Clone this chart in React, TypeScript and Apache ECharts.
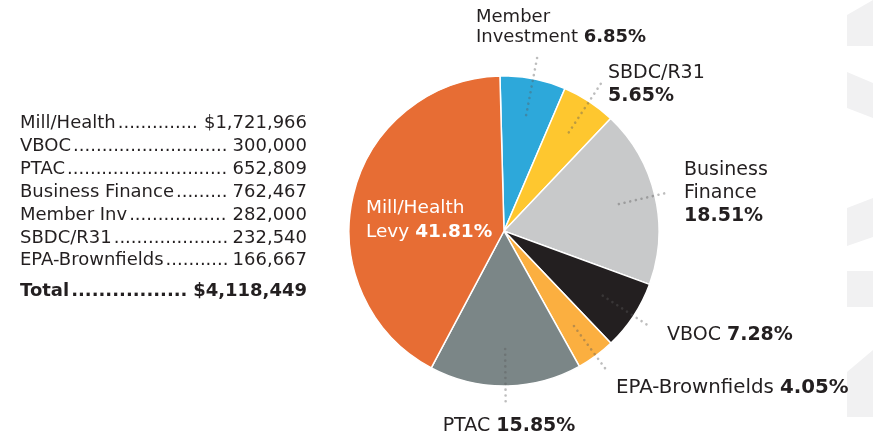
import React, { useEffect, useRef } from 'react';
import * as echarts from 'echarts';

// ---- data (list order, as in the table on the left) ----
const listNames = ['Mill/Health', 'VBOC', 'PTAC', 'Business Finance', 'Member Inv', 'SBDC/R31', 'EPA-Brownfields'];
const amounts = [1721966, 300000, 652809, 762467, 282000, 232540, 166667];
const sliceNames = ['Mill/Health\nLevy', 'VBOC', 'PTAC', 'Business\nFinance', 'Member\nInvestment', 'SBDC/R31', 'EPA-Brownfields'];
const sliceColors = ['#E76D34', '#231F20', '#7B8687', '#C8C9CA', '#2DA8DA', '#FEC72F', '#FBAF40'];
// clockwise from 12 o'clock
const sliceOrder = [4, 5, 3, 1, 6, 2, 0];
const totalLabel = 'Total';

// ---- layout (positions and styles, by list index) ----
type Cfg = { x: number; y: number; align: string; sep: string; lh: number; fs: number; color: string; line: number };
const labelCfg: Cfg[] = [
  { x: 366, y: 218.5, align: 'left', sep: ' ', lh: 24, fs: 18.5, color: '#ffffff', line: 0 },
  { x: 667, y: 332.5, align: 'left', sep: ' ', lh: 23, fs: 19, color: '#231F20', line: 58 },
  { x: 509, y: 424, align: 'center', sep: ' ', lh: 23, fs: 19, color: '#231F20', line: 57 },
  { x: 684, y: 191, align: 'left', sep: '\n', lh: 23, fs: 19, color: '#231F20', line: 52 },
  { x: 476, y: 25, align: 'left', sep: ' ', lh: 20, fs: 18, color: '#231F20', line: 62 },
  { x: 608, y: 82.5, align: 'left', sep: '\n', lh: 23, fs: 19, color: '#231F20', line: 62 },
  { x: 616, y: 386.5, align: 'left', sep: ' ', lh: 23, fs: 19.8, color: '#231F20', line: 58 },
];

const FONT = '"DejaVu Sans", sans-serif';
const TEXT = '#231F20';
const PIE_R = 155;
const LEADER_R = 118;
const PIE_CENTER = [504, 231];
const START_ANGLE = 91.5;

export default function App() {
  const ref = useRef<HTMLDivElement>(null);

  useEffect(() => {
    const el = ref.current!;
    const chart = echarts.init(el, null, { renderer: 'svg' });

    const ctx = document.createElement('canvas').getContext('2d')!;
    const measure = (t: string, size: number, weight: string) => {
      ctx.font = `${weight} ${size}px "DejaVu Sans"`;
      return ctx.measureText(t).width;
    };
    const fmt = (v: number) => v.toLocaleString('en-US');
    const total = amounts.reduce((a, b) => a + b, 0);

    const rows = listNames.map((n, i) => ({ name: n, value: (i === 0 ? '$' : '') + fmt(amounts[i]), bold: false }));
    rows.push({ name: totalLabel, value: '$' + fmt(total), bold: true });

    const LIST_LEFT = 20;
    const LIST_RIGHT = 307;
    const LIST_SIZE = 18;
    const rowY = [121.5, 144.4, 167.3, 190.2, 213.1, 236, 258.9, 289];

    const graphics: any[] = [];
    rows.forEach((r, i) => {
      const w = r.bold ? 'bold' : 'normal';
      const nameW = measure(r.name, LIST_SIZE, w);
      const valW = measure(r.value, LIST_SIZE, w);
      const dotW = measure('.', LIST_SIZE, w);
      const dotStart = LIST_LEFT + nameW + 2;
      const gap = LIST_RIGHT - valW - 2 - dotStart;
      const n = Math.max(0, Math.floor(gap / dotW));
      const base = { fill: TEXT, fontSize: LIST_SIZE, fontFamily: FONT, fontWeight: w, verticalAlign: 'middle', textVerticalAlign: 'middle' };
      graphics.push({ type: 'text', x: LIST_LEFT, y: rowY[i], style: { ...base, text: r.name, align: 'left', textAlign: 'left' } });
      graphics.push({ type: 'text', x: dotStart, y: rowY[i], style: { ...base, text: '.'.repeat(n), align: 'left', textAlign: 'left' } });
      graphics.push({ type: 'text', x: LIST_RIGHT, y: rowY[i], style: { ...base, text: r.value, align: 'right', textAlign: 'right' } });
    });

    // decorative shapes on the right edge
    const deco = [
      [[847, 15], [873, 0], [873, 46], [847, 46]],
      [[847, 72], [873, 83], [873, 118], [847, 108]],
      [[847, 208], [873, 198], [873, 237], [847, 246]],
      [[847, 271], [873, 271], [873, 307], [847, 307]],
      [[847, 372], [873, 350], [873, 417], [847, 417]],
    ];
    deco.forEach((pts) => graphics.push({ type: 'polygon', shape: { points: pts }, style: { fill: '#F1F1F2' }, z: -1 }));

    const rich = (c: Cfg) => ({
      n: { fontFamily: FONT, fontSize: c.fs, fontWeight: 'normal', color: c.color, lineHeight: c.lh },
      b: { fontFamily: FONT, fontSize: c.fs, fontWeight: 'bold', color: c.color, lineHeight: c.lh },
    });

    const mainData = sliceOrder.map((i) => {
      const c = labelCfg[i];
      return {
        name: sliceNames[i],
        value: amounts[i],
        itemStyle: { color: sliceColors[i] },
        label: {
          show: true,
          position: c.line ? 'outside' : 'inside',
          color: c.color,
          fontFamily: FONT,
          fontSize: c.fs,
          lineHeight: c.lh,
          rich: rich(c),
          formatter: (p: any) =>
            p.name.split('\n').map((s: string) => `{n|${s}}`).join('\n') + c.sep + `{b|${Number(p.percent).toFixed(2)}%}`,
        },
      };
    });

    // transparent, smaller copy of the pie whose radial label lines form the dotted leaders
    const leaderData = sliceOrder.map((i) => {
      const c = labelCfg[i];
      return {
        name: sliceNames[i],
        value: amounts[i],
        label: { show: !!c.line },
        labelLine: { show: !!c.line, length: c.line || 1, length2: 0 },
      };
    });

    const common = {
      type: 'pie',
      center: PIE_CENTER,
      startAngle: START_ANGLE,
      clockwise: true,
      avoidLabelOverlap: false,
      percentPrecision: 2,
      emphasis: { disabled: true },
    };

    const option: any = {
      animation: false,
      graphic: graphics,
      series: [
        {
          ...common,
          z: 2,
          radius: PIE_R,
          itemStyle: { borderColor: '#ffffff', borderWidth: 1.5 },
          labelLine: { show: false },
          labelLayout: (params: any) => {
            const c = labelCfg[sliceOrder[params.dataIndex]];
            return { x: c.x, y: c.y, align: c.align, verticalAlign: 'middle' };
          },
          data: mainData,
        },
        {
          ...common,
          z: 5,
          radius: LEADER_R,
          silent: true,
          itemStyle: { color: 'rgba(0,0,0,0)', borderWidth: 0 },
          label: { show: true, position: 'outside', formatter: ' ', fontSize: 1, color: 'rgba(0,0,0,0)' },
          labelLine: {
            show: true,
            lineStyle: { color: 'rgba(90,90,90,0.4)', width: 2.6, type: [0.01, 5.8], cap: 'round' },
          },
          data: leaderData,
        },
      ],
    };

    chart.setOption(option);
    return () => chart.dispose();
  }, []);

  return <div ref={ref} style={{ position: 'fixed', left: 0, top: 0, width: 873, height: 440 }} />;
}
